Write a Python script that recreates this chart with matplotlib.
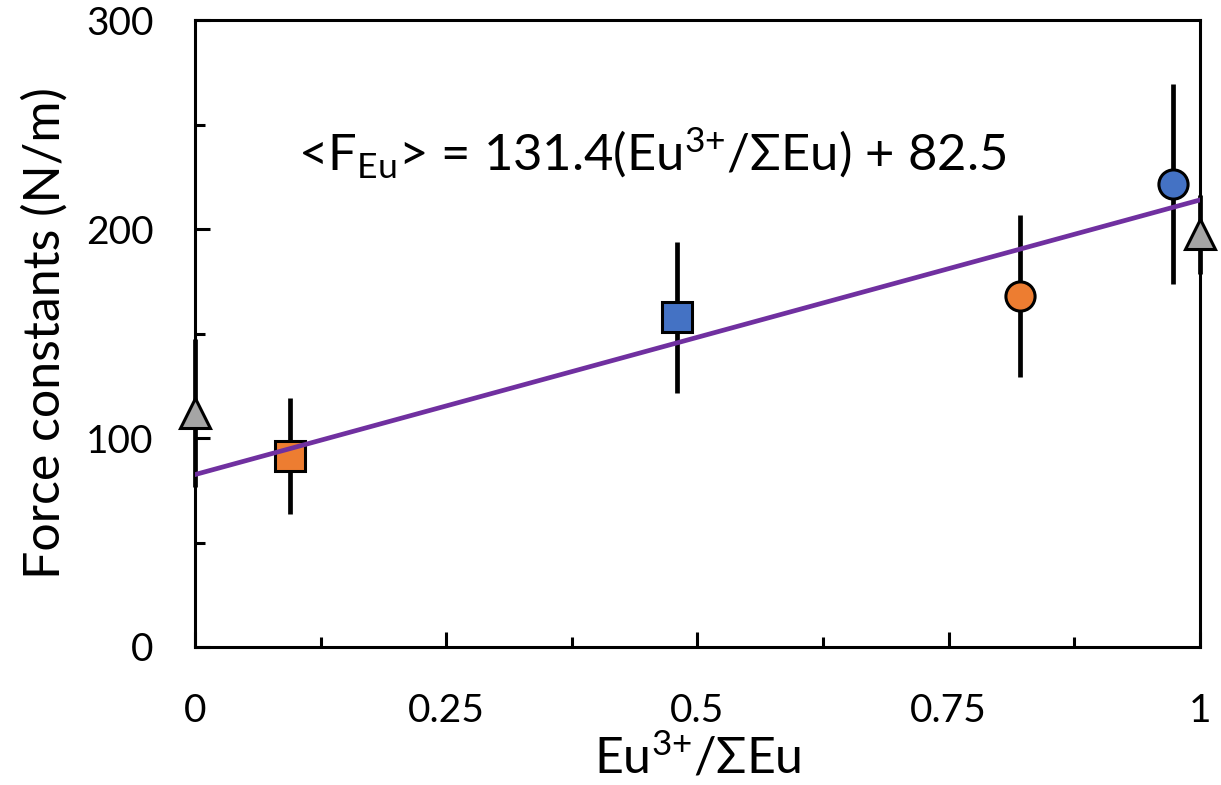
import numpy as np
import matplotlib.pyplot as plt

plt.rcParams['font.family'] = ['Lato', 'DejaVu Sans']
plt.rcParams['mathtext.fontset'] = 'custom'
plt.rcParams['mathtext.rm'] = 'Lato'
plt.rcParams['mathtext.default'] = 'rm'

# Eu3+ fraction vs. mean force constant
frac = [0.0, 0.0945, 0.48, 0.821, 0.973, 1.0]
force = [112.0, 91.5, 157.7, 168.0, 221.6, 197.5]
force_err = [35.5, 27.7, 36.3, 38.6, 47.8, 19.0]
markers = ['^', 's', 's', 'o', 'o', '^']
colors = ['#A5A5A5', '#ED7D31', '#4472C4', '#ED7D31', '#4472C4', '#A5A5A5']

slope = 131.4
intercept = 82.5

fig = plt.figure(figsize=(12.21, 7.85), dpi=100)
ax = fig.add_axes([0.1597, 0.1758, 0.8231, 0.7987])

for x, y, e, m, c in zip(frac, force, force_err, markers, colors):
    ax.errorbar(x, y, yerr=e, fmt=m, color='black', ecolor='black',
                elinewidth=3.4, capsize=0, markersize=21,
                markerfacecolor=c, markeredgecolor='black',
                markeredgewidth=2.2, clip_on=False, zorder=3)

xfit = np.array([0.0, 1.0])
ax.plot(xfit, slope * xfit + intercept, color='#7030A0', lw=3.4, zorder=4)

ax.text(0.1025, 228, r'<F$_{Eu}$> = 131.4(Eu$^{3{+}}$/ΣEu) + 82.5',
        fontsize=36.5, ha='left', va='baseline')

ax.set_xlim(0, 1)
ax.set_ylim(0, 300)
ax.set_xticks([0, 0.25, 0.5, 0.75, 1])
ax.set_xticklabels(['0', '0.25', '0.5', '0.75', '1'])
ax.set_xticks(np.arange(0.125, 1, 0.25), minor=True)
ax.set_yticks([0, 100, 200, 300])
ax.set_yticks([50, 150, 250], minor=True)

ax.tick_params(which='both', direction='in', width=2.2, top=False, right=False,
               labelsize=28, color='black')
ax.tick_params(axis='y', which='major', length=11, pad=30)
ax.tick_params(axis='y', which='minor', length=7)
ax.tick_params(axis='x', which='major', length=11, pad=33)
ax.tick_params(axis='x', which='minor', length=7)

for s in ax.spines.values():
    s.set_linewidth(2.2)
    s.set_color('black')

ax.set_xlabel('Eu$^{3{+}}$/ΣEu', fontsize=36, labelpad=3)
ax.set_ylabel('Force constants (N/m)', fontsize=36, labelpad=12)

fig.savefig('out.png', dpi=100)
